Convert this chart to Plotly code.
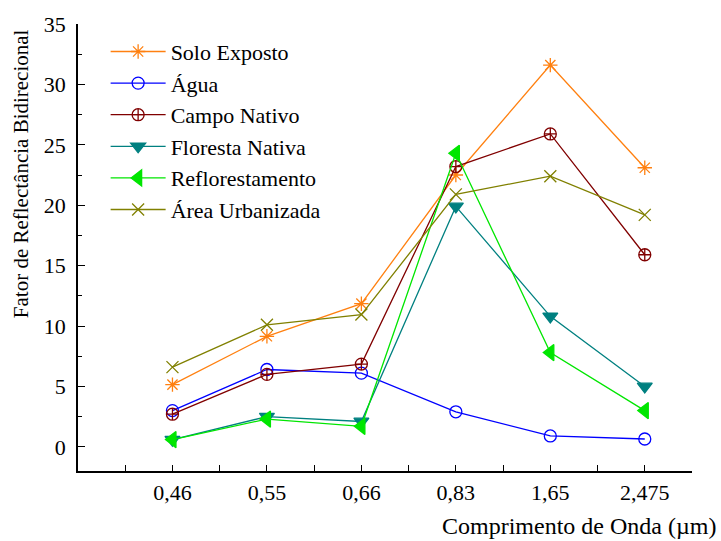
import plotly.graph_objects as go

comprimentos = ["0,46", "0,55", "0,66", "0,83", "1,65", "2,475"]
posicoes = [1, 2, 3, 4, 5, 6]

solo_exposto = [5.15, 9.15, 11.85, 22.5, 31.6, 23.1]
agua = [3.0, 6.4, 6.1, 2.9, 0.9, 0.65]
campo_nativo = [2.7, 6.0, 6.85, 23.2, 25.9, 15.9]
floresta_nativa = [0.6, 2.5, 2.1, 19.9, 10.8, 5.0]
reflorestamento = [0.6, 2.3, 1.7, 24.3, 7.8, 3.0]
area_urbanizada = [6.6, 10.1, 10.95, 20.9, 22.4, 19.2]

series = [
    ("Solo Exposto", solo_exposto, "#FF8010", "asterisk-open", 12),
    ("Água", agua, "#0000FF", "circle-open", 12),
    ("Campo Nativo", campo_nativo, "#800000", "circle-cross-open", 12),
    ("Floresta Nativa", floresta_nativa, "#008080", "triangle-down", 13),
    ("Reflorestamento", reflorestamento, "#00E600", "triangle-left", 14),
    ("Área Urbanizada", area_urbanizada, "#808000", "x-thin-open", 12),
]

fig = go.Figure()
for nome, valores, cor, simbolo, tam in series:
    fig.add_trace(go.Scatter(
        x=posicoes, y=valores, name=nome, mode="lines+markers",
        line=dict(color=cor, width=1.3),
        marker=dict(symbol=simbolo, size=tam, color=cor,
                    line=dict(color=cor, width=1.3)),
    ))

serif = "Liberation Serif, Times New Roman, serif"

fig.update_layout(
    width=721, height=541,
    margin=dict(l=78, r=29, t=19, b=70),
    plot_bgcolor="white", paper_bgcolor="white",
    font=dict(family=serif, size=22, color="black"),
    showlegend=True,
    legend=dict(x=0.045, y=0.985, xanchor="left", yanchor="top",
                bgcolor="rgba(0,0,0,0)", font=dict(family=serif, size=22),
                itemwidth=55, tracegroupgap=0),
    xaxis=dict(range=[0, 6.5], tickvals=posicoes, ticktext=comprimentos,
               showline=True, linecolor="black", linewidth=1.5,
               ticks="inside", ticklen=6, tickwidth=1.3, tickcolor="black",
               minor=dict(ticks="inside", tick0=0.5, dtick=1, ticklen=6,
                          tickwidth=1.3, tickcolor="black"),
               showgrid=False, zeroline=False, mirror=False,
               ticklabelstandoff=1,
               tickfont=dict(family=serif, size=22)),
    yaxis=dict(range=[-2, 35], tick0=0, dtick=5,
               showline=True, linecolor="black", linewidth=1.5,
               ticks="inside", ticklen=7, tickwidth=1.3, tickcolor="black",
               minor=dict(ticks="inside", tick0=2.5, dtick=5, ticklen=4,
                          tickwidth=1.3, tickcolor="black"),
               showgrid=False, zeroline=False, mirror=False,
               ticklabelstandoff=6,
               tickfont=dict(family=serif, size=22)),
    annotations=[
        dict(text="Comprimento de Onda (µm)", xref="paper", yref="paper",
             x=1.043, y=-0.122, xanchor="right", yanchor="middle",
             showarrow=False, font=dict(family=serif, size=24)),
        dict(text="Fator de Reflectância Bidirecional", xref="paper", yref="paper",
             x=-0.093, y=0.666, xanchor="center", yanchor="middle", textangle=-90,
             showarrow=False, font=dict(family=serif, size=21)),
    ],
)

fig.write_html("out.html")
